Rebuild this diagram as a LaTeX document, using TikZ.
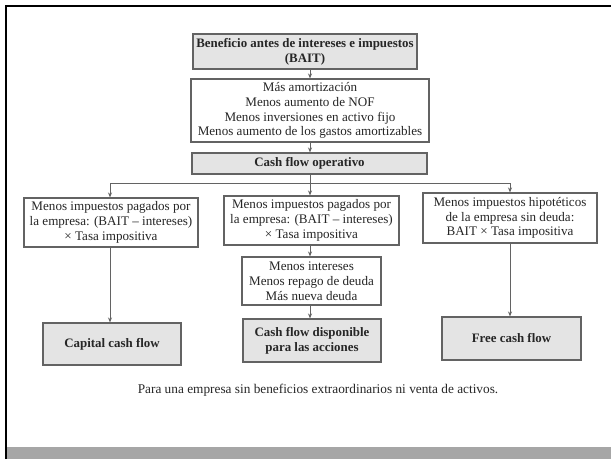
\documentclass[tikz,border=0pt]{standalone}
\usepackage{fontspec}
\setmainfont{Liberation Serif}
\usetikzlibrary{arrows.meta}
\definecolor{boxline}{HTML}{636363}
\definecolor{boxfill}{HTML}{E4E4E4}
\definecolor{band}{HTML}{A6A6A6}
\tikzset{
  plainbox/.style={draw=boxline, line width=1.1pt, fill=white, align=center, inner sep=0pt,
    font=\fontsize{13.1}{14.8}\selectfont, text=black!85},
  greybox/.style={plainbox, fill=boxfill, font=\bfseries\fontsize{12.9}{14.8}\selectfont},
  conn/.style={draw=boxline, line width=1pt},
  arr/.style={conn, -{Stealth[length=5pt,width=4pt]}}
}
\begin{document}
\begin{tikzpicture}[x=1pt,y=-1pt]
\useasboundingbox (0,0) rectangle (611,459);
\fill[white] (0,0) rectangle (611,459);
% frame
\fill[band] (7,447) rectangle (611,459);
\draw[black, line width=2.5pt] (6,459) -- (6,6) -- (611,6);

% nodes
\node[greybox, minimum width=224pt, minimum height=35pt] (b1) at (305,51.5)
  {Beneficio antes de intereses e impuestos\\(BAIT)};
\node[plainbox, minimum width=238pt, minimum height=63pt] (b2) at (310,110.5)
  {Más amortización\\Menos aumento de NOF\\Menos inversiones en activo fijo\\Menos aumento de los gastos amortizables};
\node[greybox, minimum width=235pt, minimum height=21pt] (b3) at (309.5,163.5)
  {Cash flow operativo};
\node[plainbox, minimum width=174pt, minimum height=49pt] (b4) at (111,222.5)
  {Menos impuestos pagados por\\la empresa: (BAIT -- intereses)\\× Tasa impositiva};
\node[plainbox, minimum width=175pt, minimum height=49pt] (b5) at (311.5,220.5)
  {Menos impuestos pagados por\\la empresa: (BAIT -- intereses)\\× Tasa impositiva};
\node[plainbox, minimum width=174pt, minimum height=50pt] (b6) at (510,218)
  {Menos impuestos hipotéticos\\de la empresa sin deuda:\\BAIT × Tasa impositiva};
\node[plainbox, minimum width=139pt, minimum height=48pt] (b7) at (311.5,281)
  {Menos intereses\\Menos repago de deuda\\Más nueva deuda};
\node[greybox, minimum width=138pt, minimum height=43pt] (b8) at (312,340.5)
  {Cash flow disponible\\para las acciones};
\node[greybox, minimum width=138pt, minimum height=42pt] (b9) at (112,344)
  {Capital cash flow};
\node[greybox, minimum width=139pt, minimum height=43pt] (b10) at (511.5,338.5)
  {Free cash flow};
\node[font=\fontsize{13.3}{15}\selectfont, text=black!85] (cap) at (318,390)
  {Para una empresa sin beneficios extraordinarios ni venta de activos.};

% connectors
\coordinate (cx) at (310,0);
\coordinate (lx) at (110,0);
\coordinate (rx) at (510,0);
\coordinate (bus) at (0,183);
\draw[arr] (b1.south -| cx) -- (b2.north -| cx);
\draw[arr] (b2.south -| cx) -- (b3.north -| cx);
\draw[arr] (b3.south -| cx) -- (b5.north -| cx);
\draw[arr] (bus -| cx) -- (bus -| lx) -- (b4.north -| lx);
\draw[arr] (bus -| cx) -- (bus -| rx) -- (b6.north -| rx);
\draw[arr] (b5.south -| cx) -- (b7.north -| cx);
\draw[arr] (b7.south -| cx) -- (b8.north -| cx);
\draw[arr] (b4.south -| lx) -- (b9.north -| lx);
\draw[arr] (b6.south -| rx) -- (b10.north -| rx);
\end{tikzpicture}
\end{document}
